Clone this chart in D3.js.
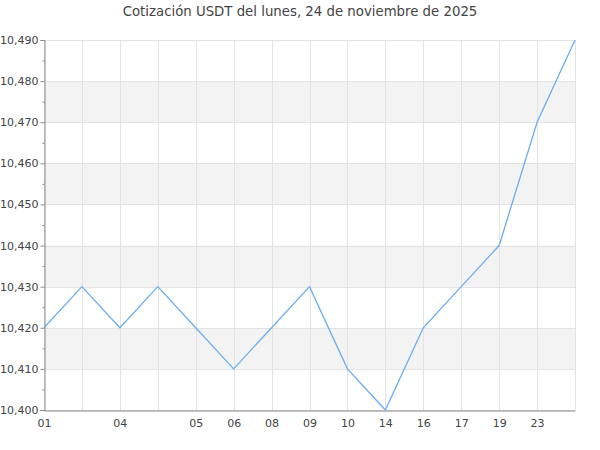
<!DOCTYPE html>
<html><head><meta charset="utf-8">
<script src="https://cdn.jsdelivr.net/npm/d3@7"></script>
<style>body{margin:0;background:#fff}svg{display:block}text{font-family:"DejaVu Sans",sans-serif}</style>
</head><body><svg id="c" width="600" height="450"></svg>
<script>
const title = "Cotización USDT del lunes, 24 de noviembre de 2025";
const xLabels = ["01","","04","","05","06","08","09","10","14","16","17","19","23",""];
const values = [10.420,10.430,10.420,10.430,10.420,10.410,10.420,10.430,10.410,10.400,10.420,10.430,10.440,10.470,10.490];
const yTicks = [10.40,10.41,10.42,10.43,10.44,10.45,10.46,10.47,10.48,10.49];
const yMinorTicks = [10.405,10.415,10.425,10.435,10.445,10.455,10.465,10.475,10.485];

const svg = d3.select("#c");
const m = {l:44, r:575, t:40, b:410};
const x = d3.scalePoint().domain(d3.range(values.length)).range([m.l, m.r]);
const y = d3.scaleLinear().domain([10.40,10.49]).range([m.b, m.t]);
const locale = d3.formatLocale({decimal:",", thousands:".", grouping:[3], currency:["$",""]});
const fmt = locale.format(".3f");

svg.append("text").attr("x",300).attr("y",15.5).attr("text-anchor","middle")
  .attr("font-size",13.3).attr("fill","#444").text(title);

// bands
for (let i=1;i<yTicks.length-1;i+=2){
  svg.append("rect").attr("x",m.l).attr("width",m.r-m.l)
    .attr("y",y(yTicks[i+1])).attr("height",y(yTicks[i])-y(yTicks[i+1])).attr("fill","#f3f3f3");
}
// horizontal grid
svg.append("g").selectAll("line").data(yTicks).join("line")
  .attr("x1",m.l).attr("x2",m.r).attr("y1",d=>Math.round(y(d))+0.5).attr("y2",d=>Math.round(y(d))+0.5)
  .attr("stroke","#e3e3e3");
// vertical grid
svg.append("g").selectAll("line").data(d3.range(values.length)).join("line")
  .attr("y1",m.t).attr("y2",m.b).attr("x1",d=>Math.round(x(d))+0.5).attr("x2",d=>Math.round(x(d))+0.5)
  .attr("stroke","#e3e3e3");

// y axis
const ya = svg.append("g").attr("transform",`translate(${m.l+0.5},0)`)
  .call(d3.axisLeft(y).tickValues(yTicks).tickFormat(fmt).tickSize(4).tickPadding(2));
ya.selectAll("text").attr("font-size",11).attr("fill","#444").style("font-family","DejaVu Sans");
ya.select(".domain").attr("stroke","#888");
ya.selectAll(".tick line").attr("stroke","#888");
svg.append("g").attr("transform",`translate(${m.l+0.5},0)`)
  .call(d3.axisLeft(y).tickValues(yMinorTicks).tickFormat("").tickSize(2))
  .call(g=>{g.select(".domain").remove(); g.selectAll("line").attr("stroke","#888");});

// x axis
const xa = svg.append("g").attr("transform",`translate(0,${m.b+0.5})`)
  .call(d3.axisBottom(x).tickFormat(i=>xLabels[i]).tickSize(0).tickPadding(9));
xa.selectAll("text").attr("font-size",11).attr("fill","#444").style("font-family","DejaVu Sans");
xa.select(".domain").attr("stroke","#888");

// line
svg.append("path").datum(values)
  .attr("d", d3.line().x((d,i)=>x(i)).y(d=>y(d)))
  .attr("fill","none").attr("stroke","#6caef0").attr("stroke-width",1.3);
</script></body></html>
